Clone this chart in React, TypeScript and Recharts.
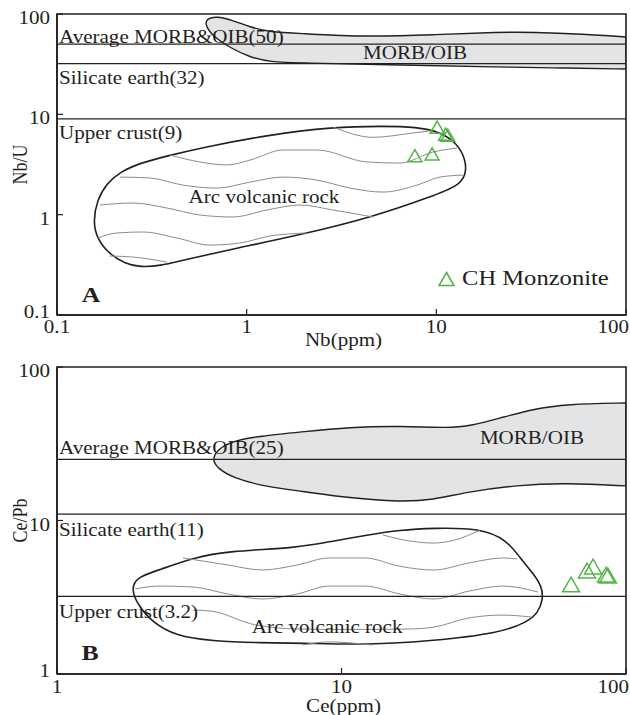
import React from "react";
import {
  ScatterChart,
  Scatter,
  XAxis,
  YAxis,
  ReferenceLine,
  ReferenceArea,
  ReferenceDot,
  Legend,
} from "recharts";

const SERIF = '"Liberation Serif", "Times New Roman", Times, serif';
const INK = "#231f20";
const GREEN = "#52b447";
const BAND = "#e3e4e6";
const HATCH = "#8c8c8c";
const STRETCH = 1.17;

// ---------- A: Nb/U vs Nb ----------
const nbTicks = [0.1, 1, 10, 100];
const nbuTicks = [0.1, 1, 10, 100];
const refNbU = [50, 32, 9];
const refNbUNames = ["Average MORB&OIB(50)", "Silicate earth(32)", "Upper crust(9)"];
const monzoniteNbU = [[10.1, 7.1], [11.2, 6.05], [11.5, 5.9], [7.7, 3.7], [9.5, 3.85]];
const morbNbU = [
  [0.6, 80], [0.62, 90], [0.69, 95], [0.84, 87], [1.04, 74], [1.33, 66], [1.9, 64], [4.3, 59],
  [9.6, 62], [21.7, 66], [32, 66], [60, 63], [100, 59], [100, 59], [100, 59],
  [100, 28.3], [100, 28.3], [100, 28.3], [45, 29], [21.7, 29.6], [6.4, 31], [1.9, 32.5],
  [1.33, 33.2], [1.04, 37], [0.82, 46], [0.66, 60],
];
const arcNbU = [
  [0.155, 0.845], [0.1625, 1.4], [0.1835, 2.07], [0.215, 2.66], [0.274, 3.27], [0.38, 3.84],
  [0.567, 4.62], [1.28, 6.22], [2.85, 7.48], [5.23, 7.65], [7.91, 7.48], [10.45, 6.67],
  [12.85, 5.18], [14.33, 3.5], [14.33, 2.48], [13.0, 1.93], [9.6, 1.535], [4.64, 0.948],
  [1.91, 0.627], [0.847, 0.455], [0.462, 0.353], [0.349, 0.308], [0.274, 0.301],
  [0.2284, 0.322], [0.1835, 0.424], [0.1625, 0.585],
];
const hatchNbU = [
  [[2.85, 7.48], [4.64, 5.9], [7.53, 6.52], [9.6, 6.9]],
  [[0.394, 3.93], [0.567, 3.35], [0.788, 3.13], [1.041, 3.5], [1.555, 4.41], [2.35, 4.41],
    [4.31, 3.35], [6.43, 3.27], [9.6, 4.21], [12.85, 4.62]],
  [[0.215, 2.37], [0.309, 2.32], [0.462, 1.97], [0.698, 1.84], [1.041, 2.11], [1.555, 2.37],
    [2.35, 2.21], [3.51, 1.84], [5.23, 1.68], [7.91, 1.97], [10.45, 2.37], [13.8, 2.48]],
  [[0.1685, 1.248], [0.2516, 1.306], [0.38, 1.165], [0.567, 0.992], [0.847, 0.948],
    [1.28, 1.113], [1.911, 1.248], [2.85, 1.113], [4.64, 0.948]],
  [[0.1645, 0.585], [0.207, 0.657], [0.284, 0.672], [0.429, 0.585], [0.641, 0.498],
    [0.922, 0.522], [1.327, 0.613], [2.08, 0.657]],
  [[0.19, 0.387], [0.2516, 0.378], [0.38, 0.337]],
];
const tagsNbU = [
  { x: 7.72, y: 40.9, text: "MORB/OIB" },
  { x: 1.234, y: 1.5, text: "Arc volcanic rock" },
];
const letterNbU = { x: 0.151, y: 0.158, text: "A" };

// ---------- B: Ce/Pb vs Ce ----------
const ceTicks = [1, 10, 100];
const cePbTicks = [1, 10, 100];
const refCePb = [25, 11, 3.2];
const refCePbNames = ["Average MORB&OIB(25)", "Silicate earth(11)", "Upper crust(3.2)"];
const monzoniteCePb = [[64.1, 3.69], [72.9, 4.55], [76.6, 4.83], [85.1, 4.28], [86.4, 4.22]];
const morbCePb = [
  [3.51, 25.2], [3.68, 29.2], [4.16, 33], [5.17, 35.5], [7.15, 37.7], [10.71, 40.6],
  [16.05, 41.3], [24.06, 40], [28.3, 41.3], [36.1, 46.5], [47.1, 53.2], [62, 57.4],
  [100, 58.3], [100, 58.3], [100, 58.3], [100, 16.8], [100, 16.8], [100, 16.8],
  [62, 17.55], [41.4, 17.03], [27.6, 15.34], [20.97, 13.61], [16.05, 13.2], [10.71, 14.0],
  [7.15, 15.57], [5.47, 16.53], [4.16, 18.9], [3.65, 22.0],
];
const arcCePb = [
  [1.82, 3.58], [1.911, 4.28], [2.283, 4.76], [3.006, 5.7], [3.99, 6.33], [6.98, 6.62],
  [9.34, 7.35], [12.29, 8.04], [16.05, 8.67], [20.97, 8.93], [30.7, 8.93], [38.2, 7.46],
  [42.4, 5.7], [47.1, 4.55], [50.7, 3.69], [51.1, 3.08], [49.1, 2.5], [44.9, 2.18],
  [36.1, 1.85], [20.97, 1.641], [12.29, 1.546], [7.15, 1.592], [5.26, 1.592],
  [3.478, 1.641], [2.62, 1.768], [2.158, 2.18], [1.926, 2.81],
];
const hatchCePb = [
  [[13.99, 8.04], [17.4, 7.35], [20.97, 7.13], [25, 7.46], [30.7, 8.67]],
  [[2.773, 5.7], [3.99, 5.13], [5.26, 4.76], [6.98, 5.13], [9.04, 5.7], [12.09, 5.7],
    [16.05, 5.03], [21.1, 4.76], [28.1, 5.29], [36.96, 5.7], [41.4, 5.62]],
  [[1.88, 3.58], [2.283, 3.74], [3.006, 3.69], [3.99, 3.32], [5.26, 3.08], [6.98, 3.32],
    [9.04, 3.74], [12.09, 3.74], [16.05, 3.32], [21.1, 3.08], [28.1, 3.47], [36.96, 3.74],
    [49.1, 3.42]],
  [[3.006, 2.61], [3.478, 2.57], [4.97, 2.09], [6.98, 1.965], [11, 1.95], [17.41, 1.965],
    [21.1, 2.02], [28.1, 2.32], [36.96, 2.42], [46.4, 2.35]],
  [[7.32, 1.546], [9.04, 1.618], [12.8, 1.546]],
];
const tagsCePb = [
  { x: 46.7, y: 34.5, text: "MORB/OIB" },
  { x: 8.9, y: 2.02, text: "Arc volcanic rock" },
];
const letterCePb = { x: 1.306, y: 1.37, text: "B" };

const toPoints = (rows: number[][]) => rows.map(([x, y]) => ({ x, y }));

const hidden = () => <g />;

function triangleShape(side: number) {
  const h = (side * Math.sqrt(3)) / 2;
  return (p: any) => (
    <polygon
      points={`${p.cx},${p.cy - (2 * h) / 3} ${p.cx - side / 2},${p.cy + h / 3} ${p.cx + side / 2},${p.cy + h / 3}`}
      fill="none"
      stroke={GREEN}
      strokeWidth={1.5}
    />
  );
}

const XTick = (props: any) => {
  const { x, y, payload, gap, last } = props;
  const end = payload.value === last;
  return (
    <text
      transform={`translate(${end ? x + 3 : x},${y + gap}) scale(${STRETCH},1)`}
      textAnchor={end ? "end" : "middle"}
      fontFamily={SERIF}
      fontSize={18}
      fill={INK}
    >
      {payload.value}
    </text>
  );
};

const YTick = (props: any) => {
  const { x, y, payload, low } = props;
  const shift = payload.value === low ? 3 : 10;
  return (
    <text
      transform={`translate(${x},${y + shift}) scale(${STRETCH},1)`}
      textAnchor="end"
      fontFamily={SERIF}
      fontSize={18}
      fill={INK}
    >
      {payload.value}
    </text>
  );
};

const XTitle = (props: any) => {
  const vb = props.viewBox ?? { x: 0, y: 0, width: 0, height: 0 };
  return (
    <text
      transform={`translate(${vb.x + vb.width / 2 + 2},${vb.y + props.gap}) scale(${STRETCH},1)`}
      textAnchor="middle"
      fontFamily={SERIF}
      fontSize={18}
      fill={INK}
    >
      {props.text}
    </text>
  );
};

const YTitle = (props: any) => {
  const vb = props.viewBox ?? { x: 0, y: 0, width: 0, height: 0 };
  return (
    <text
      transform={`translate(${vb.x + 20},${vb.y + vb.height / 2}) rotate(-90) scale(1,${STRETCH})`}
      textAnchor="middle"
      dominantBaseline="central"
      fontFamily={SERIF}
      fontSize={18}
      fill={INK}
    >
      {props.text}
    </text>
  );
};

const LineTag = (props: any) => {
  const vb = props.viewBox ?? { x: 0, y: 0 };
  return (
    <text
      transform={`translate(${vb.x + 2},${vb.y + props.lift}) scale(${STRETCH},1)`}
      fontFamily={SERIF}
      fontSize={18}
      fill={INK}
    >
      {props.text}
    </text>
  );
};

const FieldTag = (props: any) => {
  const vb = props.viewBox ?? { x: 0, y: 0, width: 0, height: 0 };
  const cx = vb.x + (vb.width || 0) / 2;
  const cy = vb.y + (vb.height || 0) / 2;
  return (
    <text
      transform={`translate(${cx},${cy}) scale(${STRETCH},1)`}
      textAnchor="middle"
      dominantBaseline="central"
      fontFamily={SERIF}
      fontSize={props.size ?? 18}
      fontWeight={props.bold ? "bold" : "normal"}
      fill={INK}
    >
      {props.text}
    </text>
  );
};

const MonzoniteKey = () => (
  <div style={{ display: "flex", alignItems: "center", fontFamily: SERIF, fontSize: 21, color: INK, whiteSpace: "nowrap" }}>
    <svg width={17} height={16}>
      <polygon points="8.5,1.5 16,14.5 1,14.5" fill="none" stroke={GREEN} strokeWidth={1.6} />
    </svg>
    <span style={{ marginLeft: 7, display: "inline-block", transform: `scaleX(${STRETCH})`, transformOrigin: "left center" }}>
      CH Monzonite
    </span>
  </div>
);

type PanelProps = {
  height: number;
  marginTop: number;
  axisHeight: number;
  xTicks: number[];
  yTicks: number[];
  xTitle: string;
  yTitle: string;
  tickGap: number;
  titleGap: number;
  refValues: number[];
  refNames: string[];
  refLift: number[];
  morb: number[][];
  arc: number[][];
  hatch: number[][][];
  samples: number[][];
  marker: number;
  tags: { x: number; y: number; text: string }[];
  letter: { x: number; y: number; text: string };
  withKey?: boolean;
};

function Panel(p: PanelProps) {
  const xDomain = [p.xTicks[0], p.xTicks[p.xTicks.length - 1]];
  const yDomain = [p.yTicks[0], p.yTicks[p.yTicks.length - 1]];
  return (
    <ScatterChart width={630} height={p.height} margin={{ top: p.marginTop, right: 4, bottom: 0, left: 0 }}>
      <XAxis
        type="number"
        dataKey="x"
        scale="log"
        domain={xDomain}
        ticks={p.xTicks}
        allowDataOverflow
        interval={0}
        height={p.axisHeight}
        tickSize={-6}
        tickMargin={10}
        axisLine={{ stroke: INK, strokeWidth: 1.6 }}
        tickLine={{ stroke: INK, strokeWidth: 1.2 }}
        tick={<XTick gap={p.tickGap} last={xDomain[1]} />}
        label={<XTitle text={p.xTitle} gap={p.titleGap} />}
      />
      <YAxis
        type="number"
        dataKey="y"
        scale="log"
        domain={yDomain}
        ticks={p.yTicks}
        allowDataOverflow
        interval={0}
        width={57}
        tickSize={-6}
        tickMargin={13}
        axisLine={{ stroke: INK, strokeWidth: 1.6 }}
        tickLine={{ stroke: INK, strokeWidth: 1.2 }}
        tick={<YTick low={yDomain[0]} />}
        label={<YTitle text={p.yTitle} />}
      />
      <Scatter
        data={toPoints(p.morb)}
        fill={INK}
        shape={hidden}
        line={{ fill: BAND, stroke: INK, strokeWidth: 1.4 }}
        lineJointType="basisClosed"
        legendType="none"
        isAnimationActive={false}
      />
      <Scatter
        data={toPoints(p.arc)}
        fill={INK}
        shape={hidden}
        line={{ fill: "none", stroke: INK, strokeWidth: 1.6 }}
        lineJointType="basisClosed"
        legendType="none"
        isAnimationActive={false}
      />
      {p.hatch.map((row, i) => (
        <Scatter
          key={`hatch-${i}`}
          data={toPoints(row)}
          fill={HATCH}
          shape={hidden}
          line={{ stroke: HATCH, strokeWidth: 1 }}
          lineJointType="monotoneX"
          legendType="none"
          isAnimationActive={false}
        />
      ))}
      {p.refValues.map((v, i) => (
        <ReferenceLine
          key={`ref-${v}`}
          y={v}
          stroke={INK}
          strokeWidth={1.3}
          zIndex={700}
          label={<LineTag text={p.refNames[i]} lift={p.refLift[i]} />}
        />
      ))}
      <ReferenceArea
        x1={xDomain[0]}
        x2={xDomain[1]}
        y1={yDomain[0]}
        y2={yDomain[1]}
        fill="none"
        fillOpacity={0}
        stroke={INK}
        strokeWidth={1.6}
        ifOverflow="visible"
        zIndex={700}
      />
      {p.tags.map((t) => (
        <ReferenceDot key={t.text} x={t.x} y={t.y} r={0} fill="none" stroke="none" zIndex={900} label={<FieldTag text={t.text} />} />
      ))}
      <ReferenceDot
        x={p.letter.x}
        y={p.letter.y}
        r={0}
        fill="none"
        stroke="none"
        zIndex={900}
        label={<FieldTag text={p.letter.text} size={22} bold />}
      />
      <Scatter
        name="CH Monzonite"
        data={toPoints(p.samples)}
        fill={GREEN}
        shape={triangleShape(p.marker)}
        zIndex={800}
        isAnimationActive={false}
      />
      {p.withKey && (
        <Legend
          layout="vertical"
          align="center"
          verticalAlign="middle"
          content={<MonzoniteKey />}
          wrapperStyle={{ left: 438, top: 266, width: "auto", height: "auto" }}
        />
      )}
    </ScatterChart>
  );
}

export default function App() {
  return (
    <div style={{ position: "absolute", left: 0, top: 0, width: 630, height: 715, background: "#fff", overflow: "hidden" }}>
      <div style={{ position: "absolute", left: 0, top: 0 }}>
        <Panel
          height={355}
          marginTop={14}
          axisHeight={40}
          xTicks={nbTicks}
          yTicks={nbuTicks}
          xTitle="Nb(ppm)"
          yTitle="Nb/U"
          tickGap={14}
          titleGap={31}
          refValues={refNbU}
          refNames={refNbUNames}
          refLift={[-1, 20, 20]}
          morb={morbNbU}
          arc={arcNbU}
          hatch={hatchNbU}
          samples={monzoniteNbU}
          marker={14}
          tags={tagsNbU}
          letter={letterNbU}
          withKey
        />
      </div>
      <div style={{ position: "absolute", left: 0, top: 355 }}>
        <Panel
          height={360}
          marginTop={12}
          axisHeight={41}
          xTicks={ceTicks}
          yTicks={cePbTicks}
          xTitle="Ce(ppm)"
          yTitle="Ce/Pb"
          tickGap={15}
          titleGap={38}
          refValues={refCePb}
          refNames={refCePbNames}
          refLift={[-5, 22, 22]}
          morb={morbCePb}
          arc={arcCePb}
          hatch={hatchCePb}
          samples={monzoniteCePb}
          marker={17}
          tags={tagsCePb}
          letter={letterCePb}
        />
      </div>
    </div>
  );
}
